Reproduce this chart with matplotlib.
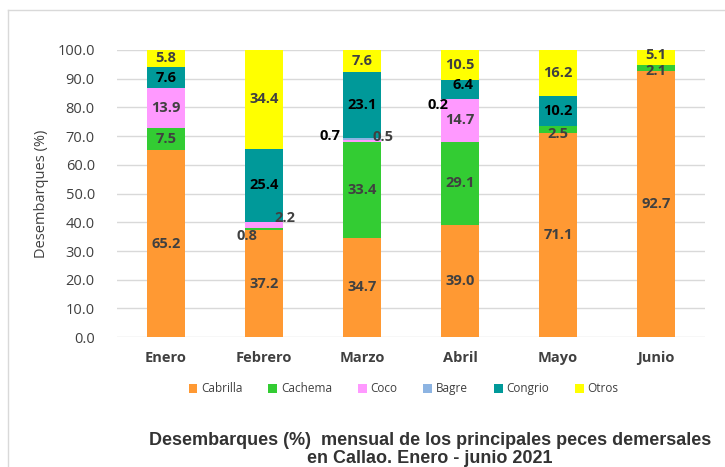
import numpy as np
import matplotlib
matplotlib.use("Agg")
import matplotlib.pyplot as plt
from matplotlib.lines import Line2D

# monthly landings share (%) by species, Callao, Jan-Jun 2021
months = ['Enero', 'Febrero', 'Marzo', 'Abril', 'Mayo', 'Junio']
species = ['Cabrilla', 'Cachema', 'Coco', 'Bagre', 'Congrio', 'Otros']
cabrilla = [65.2, 37.2, 34.7, 39.0, 71.1, 92.7]
cachema = [7.5, 0.8, 33.4, 29.1, 2.5, 2.1]
coco = [13.9, 2.2, 0.5, 14.7, 0.0, 0.0]
bagre = [0.0, 0.0, 0.7, 0.2, 0.0, 0.0]
congrio = [7.6, 25.4, 23.1, 6.4, 10.2, 0.0]
otros = [5.8, 34.4, 7.6, 10.5, 16.2, 5.1]

series = [cabrilla, cachema, coco, bagre, congrio, otros]
colors = ['#FF9933', '#33CC33', '#FF99FF', '#8DB4E2', '#009999', '#FFFF00']
label_colors = ['#404040', '#404040', '#404040', '#000000', '#000000', '#404040']

# nudges (points) for the crowded small labels: (series idx, month idx) -> (dx, dy)
nudge = {
    (1, 1): (-12, -5), (2, 1): (15, 5),
    (3, 2): (-23, 2), (2, 2): (15, 3),
    (3, 3): (-16, -4), (4, 3): (2, 3),
    (1, 4): (0, -3), (1, 5): (0, -2), (5, 5): (0, 2),
}

fig = plt.figure(figsize=(7.25, 4.67), dpi=100)
ax = fig.add_axes([0.1614, 0.278, 0.811, 0.615])

x = np.arange(len(months))
bottom = np.zeros(len(months))
for i, (name, vals) in enumerate(zip(species, series)):
    vals = np.array(vals)
    ax.bar(x, vals, 0.39, bottom=bottom, color=colors[i], label=name, zorder=2)
    for j, v in enumerate(vals):
        if v <= 0:
            continue
        dx, dy = nudge.get((i, j), (0, 0))
        ax.annotate(f'{v:.1f}', (x[j], bottom[j] + v / 2), xytext=(dx, dy),
                    textcoords='offset points', ha='center', va='center',
                    fontsize=10.5, fontweight='bold', color=label_colors[i],
                    family='Open Sans', zorder=3)
    bottom += vals

ax.set_xlim(-0.5, len(months) - 0.5)
ax.set_ylim(0, 100)
ax.set_yticks(np.arange(0, 101, 10))
ax.set_yticklabels([f'{t:.1f}' for t in np.arange(0, 101, 10)],
                   fontsize=10.5, color='#404040', family='Open Sans')
ax.set_xticks(x)
ax.set_xticklabels(months, fontsize=10.5, fontweight='bold', color='#404040',
                   family='Open Sans')
ax.tick_params(axis='both', length=0)
ax.tick_params(axis='y', pad=16)
ax.tick_params(axis='x', pad=10)
ax.grid(axis='y', color='#D9D9D9', linewidth=1, zorder=0)
for s in ax.spines.values():
    s.set_visible(False)
ax.set_ylabel('Desembarques (%)', fontsize=10.5, color='#404040',
              family='Open Sans', labelpad=6)

ax.legend(loc='center', bbox_to_anchor=(0.487, -0.18), ncol=6, frameon=False,
          handlelength=0.75, handleheight=0.75, handletextpad=0.3,
          columnspacing=2.2, labelcolor='#404040',
          prop={'family': 'Open Sans', 'size': 8.5})

fig.text(0.593, 0.038, 'Desembarques (%)  mensual de los principales peces demersales\n'
         'en Callao. Enero - junio 2021', ha='center', va='center',
         fontsize=13, fontweight='bold', color='#333333', family='Liberation Sans',
         linespacing=1.05)

# outer chart border (partially visible)
fig.add_artist(Line2D([8 / 725, 8 / 725], [1 - 10 / 467, 0.0], color='#D9D9D9',
                      linewidth=1, transform=fig.transFigure))
fig.add_artist(Line2D([8 / 725, 1.0], [1 - 10 / 467, 1 - 10 / 467], color='#D9D9D9',
                      linewidth=1, transform=fig.transFigure))

fig.savefig('out.png', dpi=100)
